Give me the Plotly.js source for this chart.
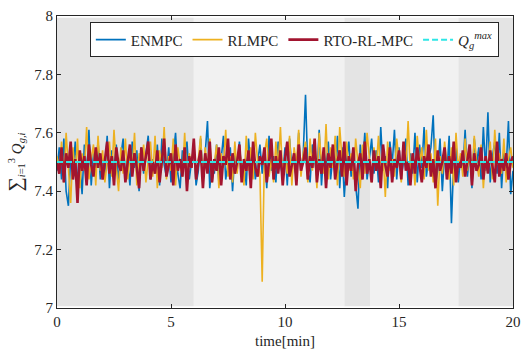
<!DOCTYPE html>
<html><head><meta charset="utf-8">
<script src="https://cdn.plot.ly/plotly-3.0.1.min.js"></script>
<style>html,body{margin:0;padding:0;background:#fff;}#chart{width:521px;height:349px;}</style>
</head><body><div id="chart"></div>
<script>
const timeMin = Array.from({length: 201}, (_, i) => +(i * 0.1).toFixed(1));
const enmpc = [
7.47,7.55,7.44,7.58,7.40,7.35,7.52,7.46,7.57,7.43,
7.50,7.39,7.56,7.45,7.61,7.42,7.53,7.48,7.57,7.44,
7.51,7.46,7.59,7.41,7.54,7.47,7.56,7.43,7.52,7.58,
7.45,7.50,7.42,7.57,7.48,7.54,7.40,7.55,7.46,7.53,
7.59,7.44,7.51,7.47,7.56,7.42,7.58,7.49,7.45,7.55,
7.43,7.52,7.60,7.46,7.41,7.54,7.48,7.57,7.44,7.50,
7.55,7.42,7.47,7.58,7.45,7.53,7.64,7.41,7.50,7.46,
7.56,7.43,7.52,7.59,7.44,7.49,7.55,7.40,7.53,7.47,
7.57,7.45,7.51,7.42,7.58,7.48,7.54,7.44,7.50,7.56,
7.46,7.53,7.41,7.59,7.47,7.52,7.43,7.57,7.49,7.45,
7.55,7.42,7.58,7.48,7.51,7.44,7.60,7.46,7.53,7.73,
7.47,7.43,7.56,7.50,7.45,7.61,7.42,7.54,7.48,7.57,
7.44,7.52,7.46,7.59,7.41,7.55,7.38,7.50,7.57,7.45,
7.53,7.42,7.34,7.56,7.48,7.60,7.44,7.51,7.58,7.46,
7.54,7.43,7.62,7.47,7.52,7.41,7.57,7.49,7.61,7.44,
7.55,7.45,7.50,7.58,7.42,7.53,7.46,7.60,7.43,7.56,
7.48,7.62,7.45,7.51,7.55,7.66,7.42,7.47,7.58,7.40,
7.53,7.46,7.59,7.29,7.50,7.56,7.43,7.52,7.47,7.61,
7.45,7.54,7.41,7.58,7.49,7.55,7.44,7.62,7.47,7.67,
7.43,7.52,7.57,7.46,7.60,7.41,7.54,7.48,7.64,7.39,
7.47];
const rlmpc = [
7.52,7.46,7.57,7.43,7.60,7.48,7.36,7.55,7.45,7.58,
7.41,7.53,7.47,7.62,7.44,7.51,7.56,7.42,7.59,7.47,
7.54,7.43,7.50,7.57,7.45,7.61,7.48,7.40,7.55,7.46,
7.58,7.44,7.52,7.47,7.60,7.42,7.53,7.49,7.56,7.43,
7.51,7.57,7.45,7.59,7.41,7.54,7.48,7.62,7.44,7.52,
7.47,7.58,7.42,7.55,7.49,7.45,7.60,7.43,7.53,7.48,
7.57,7.44,7.51,7.59,7.42,7.55,7.47,7.58,7.43,7.50,
7.56,7.41,7.53,7.48,7.61,7.45,7.52,7.43,7.57,7.46,
7.54,7.49,7.42,7.59,7.47,7.55,7.44,7.60,7.50,7.46,
7.09,7.53,7.58,7.45,7.51,7.43,7.57,7.48,7.62,7.44,
7.52,7.46,7.59,7.42,7.55,7.49,7.61,7.45,7.53,7.57,
7.43,7.58,7.47,7.54,7.41,7.60,7.50,7.46,7.63,7.44,
7.55,7.48,7.59,7.42,7.62,7.51,7.45,7.57,7.47,7.53,
7.44,7.58,7.49,7.41,7.56,7.46,7.60,7.52,7.43,7.55,
7.48,7.59,7.44,7.53,7.38,7.57,7.47,7.51,7.45,7.58,
7.50,7.43,7.56,7.48,7.64,7.46,7.52,7.42,7.59,7.49,
7.55,7.44,7.61,7.47,7.53,7.43,7.58,7.35,7.52,7.46,
7.57,7.49,7.44,7.55,7.42,7.60,7.48,7.53,7.45,7.58,
7.47,7.54,7.43,7.59,7.50,7.45,7.56,7.41,7.52,7.48,
7.57,7.44,7.61,7.49,7.53,7.46,7.58,7.43,7.51,7.55,
7.48];
const rtoRlMpc = [
7.50,7.46,7.55,7.43,7.53,7.48,7.57,7.44,7.51,7.36,
7.54,7.47,7.52,7.42,7.56,7.49,7.45,7.55,7.48,7.53,
7.44,7.51,7.57,7.46,7.52,7.42,7.55,7.49,7.47,7.54,
7.43,7.50,7.56,7.45,7.53,7.48,7.41,7.55,7.47,7.52,
7.57,7.44,7.50,7.46,7.54,7.43,7.51,7.58,7.45,7.49,
7.53,7.42,7.56,7.47,7.51,7.45,7.55,7.40,7.52,7.48,
7.58,7.44,7.50,7.54,7.41,7.53,7.46,7.57,7.43,7.51,
7.47,7.55,7.42,7.52,7.49,7.58,7.44,7.53,7.46,7.50,
7.56,7.43,7.51,7.47,7.54,7.41,7.57,7.48,7.45,7.52,
7.49,7.55,7.43,7.50,7.58,7.44,7.52,7.46,7.54,7.42,
7.51,7.57,7.45,7.49,7.53,7.42,7.56,7.47,7.50,7.55,
7.44,7.52,7.48,7.58,7.43,7.51,7.46,7.55,7.41,7.53,
7.48,7.56,7.44,7.50,7.54,7.45,7.57,7.42,7.52,7.47,
7.55,7.40,7.49,7.53,7.44,7.57,7.46,7.51,7.43,7.54,
7.47,7.52,7.41,7.56,7.49,7.45,7.55,7.43,7.51,7.48,
7.54,7.44,7.57,7.47,7.50,7.42,7.53,7.46,7.55,7.49,
7.43,7.52,7.48,7.56,7.45,7.51,7.41,7.54,7.47,7.50,
7.55,7.44,7.52,7.46,7.57,7.43,7.50,7.48,7.54,7.45,
7.51,7.56,7.42,7.53,7.47,7.49,7.55,7.44,7.52,7.46,
7.54,7.48,7.43,7.57,7.45,7.51,7.47,7.53,7.44,7.50,
7.52];
const qMaxLevel = 7.5;
const qMaxX = [0, 20];
const darkBands = [[0, 6.0], [12.6, 13.75], [17.6, 20]];
const lightBands = [[6.0, 12.6], [13.75, 17.6]];
const xTicks = [0, 5, 10, 15, 20];
const yTicks = [7, 7.2, 7.4, 7.6, 7.8, 8];

const font = {family: 'Liberation Serif, Times New Roman, serif', size: 15, color: '#262626'};
const shapes = [];
darkBands.forEach(b => shapes.push({type:'rect', layer:'below', xref:'x', yref:'y', x0:b[0], x1:b[1], y0:7.006, y1:7.994, fillcolor:'#e4e4e4', line:{width:0}}));
lightBands.forEach(b => shapes.push({type:'rect', layer:'below', xref:'x', yref:'y', x0:b[0], x1:b[1], y0:7.006, y1:7.994, fillcolor:'#f1f1f1', line:{width:0}}));

const traces = [
  {x: timeMin, y: enmpc, name: 'ENMPC', mode: 'lines', line: {color: '#0072BD', width: 1.6}},
  {x: timeMin, y: rlmpc, name: 'RLMPC', mode: 'lines', line: {color: '#EDB120', width: 1.6}},
  {x: timeMin, y: rtoRlMpc, name: 'RTO-RL-MPC', mode: 'lines', line: {color: '#A2142F', width: 2.6}},
  {x: qMaxX, y: qMaxX.map(() => qMaxLevel), name: '<i>Q</i><sub><i>g</i></sub><sup><i>max</i></sup>', mode: 'lines', line: {color: '#2ee6e6', width: 2, dash: '6px,3px'}}
];

const layout = {
  width: 521, height: 349,
  margin: {l: 57, r: 8, t: 16, b: 41},
  paper_bgcolor: '#fff', plot_bgcolor: '#fff',
  font: font,
  showlegend: true,
  legend: {orientation: 'h', x: 0.072, y: 0.978, xanchor: 'left', yanchor: 'top', bgcolor: '#fff', bordercolor: '#262626', borderwidth: 1, font: font, tracegroupgap: 0, itemwidth: 30},
  xaxis: {range: [0, 20], tickvals: xTicks, ticktext: xTicks.map(String), ticks: 'inside', ticklen: 4, tickcolor: '#262626', showline: true, linecolor: '#262626', linewidth: 1, mirror: 'ticks', showgrid: false, zeroline: false, tickfont: font,
    title: {text: 'time[min]', font: font, standoff: 6}},
  yaxis: {range: [7, 8], tickvals: yTicks, ticktext: yTicks.map(v => v.toFixed(1).replace(/\.0$/, '')), ticks: 'inside', ticklen: 4, tickcolor: '#262626', showline: true, linecolor: '#262626', linewidth: 1, mirror: 'ticks', showgrid: false, zeroline: false, tickfont: font,
    title: {text: '<span style="font-size:20px">∑</span><sub><i>i</i>=1</sub><sup>3</sup> <i>Q</i><sub><i>g,i</i></sub>', font: font, standoff: 8}},
  shapes: shapes
};
Plotly.newPlot('chart', traces, layout, {displayModeBar: false, staticPlot: true});
</script></body></html>
